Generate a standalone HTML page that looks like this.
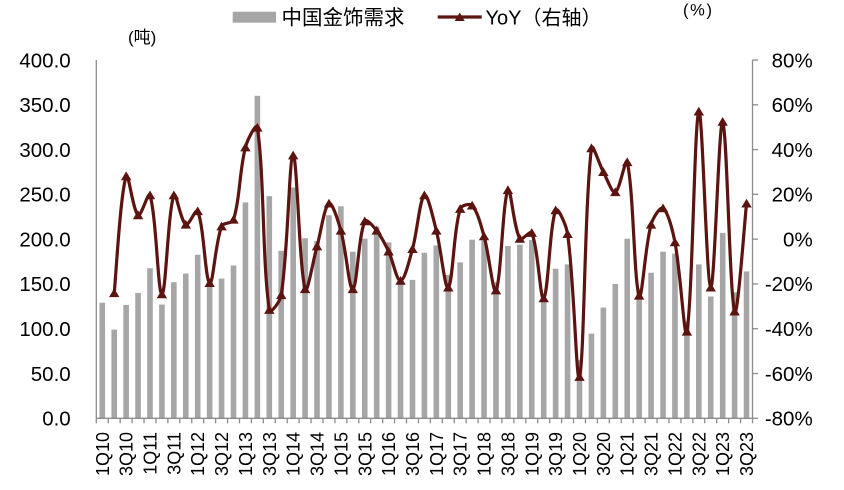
<!DOCTYPE html>
<html><head><meta charset="utf-8"><style>
html,body{margin:0;padding:0;background:#fff;width:844px;height:490px;overflow:hidden}
svg{display:block}
text{font-family:"Liberation Sans","Noto Sans CJK SC",sans-serif;fill:#000}
</style></head><body>
<svg id="c" width="844" height="490" viewBox="0 0 844 490" xmlns="http://www.w3.org/2000/svg">
<g id="bars"></g>
<g id="axes"></g>
<g id="line"></g>

<!-- legend -->
<rect x="232.7" y="11.7" width="43.3" height="11" fill="#a6a6a6"/>
<text x="281.5" y="24.5" font-size="20.5" style="font-family:'Noto Sans CJK SC',sans-serif">中国金饰需求</text>
<line x1="437.7" y1="17" x2="481.7" y2="17" stroke="#5b1410" stroke-width="3.2"/>
<path d="M459.7,12.5 L464.7,21 L454.7,21 Z" fill="#5b1410"/>
<text x="485.5" y="24.5" font-size="20">YoY<tspan style="font-family:'Noto Sans CJK SC',sans-serif">（右轴）</tspan></text>

<text x="128" y="43" font-size="17">(<tspan style="font-family:'Noto Sans CJK SC',sans-serif">吨</tspan>)</text>
<text x="683" y="15.5" font-size="16.5" textLength="29">(%)</text>

<!-- left axis labels -->
<g font-size="20.5" text-anchor="end">
<text x="70.7" y="67.3">400.0</text>
<text x="70.7" y="112.1">350.0</text>
<text x="70.7" y="156.9">300.0</text>
<text x="70.7" y="201.6">250.0</text>
<text x="70.7" y="246.4">200.0</text>
<text x="70.7" y="291.2">150.0</text>
<text x="70.7" y="336.0">100.0</text>
<text x="70.7" y="380.8">50.0</text>
<text x="70.7" y="425.6">0.0</text>
</g>
<!-- right axis labels -->
<g font-size="20.5" text-anchor="end">
<text x="812.7" y="67.3">80%</text>
<text x="812.7" y="112.1">60%</text>
<text x="812.7" y="156.9">40%</text>
<text x="812.7" y="201.6">20%</text>
<text x="812.7" y="246.4">0%</text>
<text x="812.7" y="291.2">-20%</text>
<text x="812.7" y="336.0">-40%</text>
<text x="812.7" y="380.8">-60%</text>
<text x="812.7" y="425.6">-80%</text>
</g>
<!-- x labels -->
<g font-size="18" text-anchor="end">
<text transform="translate(108.8,432) rotate(-90)">1Q10</text>
<text transform="translate(132.6,432) rotate(-90)">3Q10</text>
<text transform="translate(156.5,432) rotate(-90)">1Q11</text>
<text transform="translate(180.4,432) rotate(-90)">3Q11</text>
<text transform="translate(204.2,432) rotate(-90)">1Q12</text>
<text transform="translate(228.1,432) rotate(-90)">3Q12</text>
<text transform="translate(251.9,432) rotate(-90)">1Q13</text>
<text transform="translate(275.8,432) rotate(-90)">3Q13</text>
<text transform="translate(299.7,432) rotate(-90)">1Q14</text>
<text transform="translate(323.5,432) rotate(-90)">3Q14</text>
<text transform="translate(347.4,432) rotate(-90)">1Q15</text>
<text transform="translate(371.3,432) rotate(-90)">3Q15</text>
<text transform="translate(395.1,432) rotate(-90)">1Q16</text>
<text transform="translate(419.0,432) rotate(-90)">3Q16</text>
<text transform="translate(442.8,432) rotate(-90)">1Q17</text>
<text transform="translate(466.7,432) rotate(-90)">3Q17</text>
<text transform="translate(490.6,432) rotate(-90)">1Q18</text>
<text transform="translate(514.4,432) rotate(-90)">3Q18</text>
<text transform="translate(538.3,432) rotate(-90)">1Q19</text>
<text transform="translate(562.2,432) rotate(-90)">3Q19</text>
<text transform="translate(586.0,432) rotate(-90)">1Q20</text>
<text transform="translate(609.9,432) rotate(-90)">3Q20</text>
<text transform="translate(633.7,432) rotate(-90)">1Q21</text>
<text transform="translate(657.6,432) rotate(-90)">3Q21</text>
<text transform="translate(681.5,432) rotate(-90)">1Q22</text>
<text transform="translate(705.3,432) rotate(-90)">3Q22</text>
<text transform="translate(729.2,432) rotate(-90)">1Q23</text>
<text transform="translate(753.0,432) rotate(-90)">3Q23</text>
</g>
</svg>
<script>
(function(){
var NS="http://www.w3.org/2000/svg";
var X0=96.3,X1=752.5,YT=60,YB=418.3,N=55,W=(X1-X0)/N;
var bars=[129,99,126.6,140,167.6,127,152,161.7,182.6,155,156,170.6,241,360,248,187,257.7,201,198,226.7,236.7,186,200.5,214,196.4,151,154.6,184.8,193,160,174,199.4,198.7,152,192.3,193.8,199,130,167,171.8,65,94.5,123.6,150,200.5,145,162.5,186,184,108,171.8,136,207,140.7,164];
var yoy=[null,-24.1,28.1,10.7,19.6,-24.6,19.6,6.5,12.5,-19.6,5.7,8.7,41,49.8,-31.6,-25,37.4,-22.3,-3.2,15.9,3.8,-22.3,8,3.8,-5.5,-18.6,-4.4,19.6,3.8,-21.6,13.5,15,1.3,-22.9,21.9,0.2,2.8,-26.4,12.9,2.3,-61.5,40.6,30,21,34.4,-25.2,6.5,13.8,-1.4,-41.3,57,-21.6,52.4,-32.3,15.9];
function cx(i){return X0+W*(i+0.5);}
function yl(v){return YB-v*(YB-YT)/400;}
function yr(p){return (YT+YB)/2-p*(YB-YT)/160;}
function el(tag,attrs,parent){var e=document.createElementNS(NS,tag);for(var k in attrs)e.setAttribute(k,attrs[k]);parent.appendChild(e);return e;}
var gb=document.getElementById("bars"),ga=document.getElementById("axes"),gl=document.getElementById("line");
var bw=5.6;
for(var i=0;i<N;i++){var y=yl(bars[i]);el("rect",{x:(cx(i)-bw/2).toFixed(2),y:y.toFixed(2),width:bw,height:(YB-y).toFixed(2),fill:"#a6a6a6"},gb);}
var ac="#8c8c8c";
el("line",{x1:X0,y1:YT,x2:X0,y2:YB,stroke:ac,"stroke-width":1.3},ga);
el("line",{x1:X1,y1:YT,x2:X1,y2:YB,stroke:ac,"stroke-width":1.3},ga);
el("line",{x1:X0,y1:YB,x2:X1,y2:YB,stroke:ac,"stroke-width":1.3},ga);
for(var i=0;i<=N;i++){var x=X0+W*i;el("line",{x1:x,y1:YB,x2:x,y2:YB+5,stroke:ac,"stroke-width":1.3},ga);}
for(var j=0;j<=8;j++){var y=YT+(YB-YT)*j/8;el("line",{x1:X1,y1:y,x2:X1+5.5,y2:y,stroke:ac,"stroke-width":1.3},ga);}
var P=[];for(var i=1;i<N;i++)P.push([cx(i),yr(yoy[i])]);
function dist(a,b){return Math.sqrt((a[0]-b[0])*(a[0]-b[0])+(a[1]-b[1])*(a[1]-b[1]));}
var t=1/3;
var d="M"+P[0][0].toFixed(2)+","+P[0][1].toFixed(2);
for(var i=0;i<P.length-1;i++){
 var p0=P[i-1]||P[i],p1=P[i],p2=P[i+1],p3=P[i+2]||P[i+1];
 var d01=dist(p0,p1),d12=dist(p1,p2),d23=dist(p2,p3);
 var f1=(d01+d12)>0?d12/(d01+d12):0.5; if(!P[i-1])f1=0.5;
 var f2=(d12+d23)>0?d12/(d12+d23):0.5; if(!P[i+2])f2=0.5;
 var c1x=p1[0]+(p2[0]-p0[0])*t*f1,c1y=p1[1]+(p2[1]-p0[1])*t*f1;
 var c2x=p2[0]-(p3[0]-p1[0])*t*f2,c2y=p2[1]-(p3[1]-p1[1])*t*f2;
 d+=" C"+c1x.toFixed(2)+","+c1y.toFixed(2)+" "+c2x.toFixed(2)+","+c2y.toFixed(2)+" "+p2[0].toFixed(2)+","+p2[1].toFixed(2);
}
el("path",{d:d,fill:"none",stroke:"#5b1410","stroke-width":3.2,"stroke-linejoin":"round"},gl);
for(var i=0;i<P.length;i++){var x=P[i][0],y=P[i][1];
 el("path",{d:"M"+x.toFixed(2)+","+(y-4.8).toFixed(2)+" L"+(x+5.2).toFixed(2)+","+(y+4).toFixed(2)+" L"+(x-5.2).toFixed(2)+","+(y+4).toFixed(2)+" Z",fill:"#5b1410"},gl);}
})();
</script>
</body></html>
